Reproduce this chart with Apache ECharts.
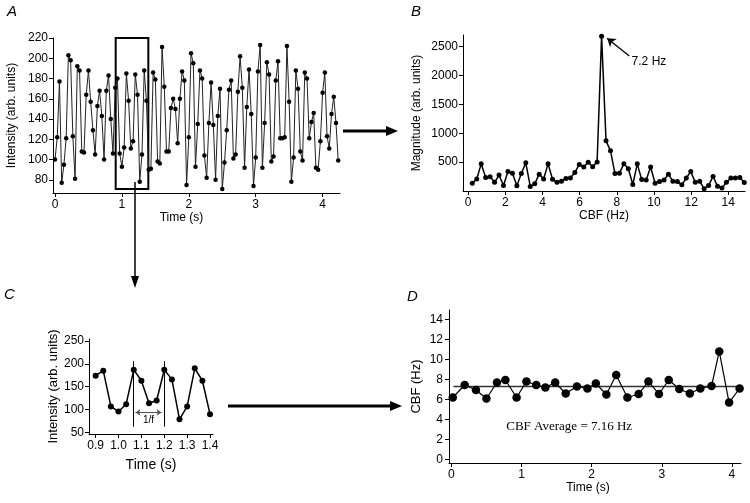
<!DOCTYPE html>
<html><head><meta charset="utf-8">
<script src="https://cdn.jsdelivr.net/npm/echarts@6/dist/echarts.min.js"></script>
<style>html,body{margin:0;padding:0;background:#fff}#c{width:750px;height:503px}</style>
</head><body><div id="c"></div>
<script>
// ---- Panel A: intensity trace sampled at 30 Hz ----
const sampleRateHz = 30;
const intensityA = [100,122,177,77,95,121,203,198,123,81,
 192,188,108,107,164,188,157,129,
 105,153,168,143,100,168,183,140,106,
 171,180,106,93,112,185,158,111,118,184,164,78,105,188,158,
 90,91,186,179,98,96,
 211,172,108,108,151,160,150,116,160,187,
 178,75,122,205,195,93,135,188,180,104,
 82,136,176,134,80,143,170,71,97,129,
 169,178,101,105,167,202,171,92,152,189,
 145,74,102,187,213,92,136,196,184,98,
 103,178,197,121,121,122,212,157,78,102,
 188,170,108,99,186,180,121,137,146,92,
 90,118,166,186,123,111,145,162,136,99];
const ticksAx = [0,1,2,3,4];
const ticksAy = [80,100,120,140,160,180,200,220];

// ---- Panel B: magnitude spectrum ----
const freqB = [0.22,0.46,0.70,0.94,1.18,1.42,1.66,1.90,2.14,2.38,2.62,2.86,3.10,3.34,3.58,3.82,4.06,4.30,4.54,4.78,
 5.02,5.26,5.50,5.74,5.98,6.22,6.46,6.70,6.94,7.18,7.42,7.66,7.90,8.14,8.38,8.62,8.86,9.10,9.34,9.58,
 9.82,10.06,10.30,10.54,10.78,11.02,11.26,11.50,11.74,11.98,12.22,12.46,12.70,12.94,13.18,13.42,13.66,13.90,14.14,14.38,
 14.62,14.86];
const magnitudeB = [134,208,470,235,247,151,275,96,336,309,91,302,487,79,124,292,208,470,202,151,
 168,218,225,319,460,415,499,420,504,2680,868,695,302,309,470,386,113,470,197,191,
 415,134,163,191,292,168,163,107,225,336,151,168,40,96,252,84,50,151,225,225,
 235,146];
const ticksBx = [0,2,4,6,8,10,12,14];
const ticksBy = [500,1000,1500,2000,2500];

// ---- Panel C: zoom of 0.9-1.4 s ----
const timeStartC = 0.9;
const intensityC = [174,185,107,96,112,187,163,114,120,187,166,79,107,190,163,90];
const ticksCx = [0.9,1.0,1.1,1.2,1.3,1.4];
const ticksCy = [50,100,150,200,250];

// ---- Panel D: CBF over time ----
const timeD = [0.02,0.19,0.35,0.50,0.65,0.77,0.93,1.07,1.21,1.34,1.48,1.63,1.79,1.94,2.06,2.21,2.35,2.51,2.67,2.81,2.96,3.10,3.25,3.40,3.55,3.71,3.82,3.96,4.11];
const cbfD = [6.2,7.45,6.95,6.1,7.7,7.95,6.2,7.8,7.45,7.2,7.7,6.6,7.3,7.1,7.6,6.5,8.45,6.2,6.55,7.8,6.55,7.95,7.05,6.6,7.1,7.35,10.8,5.7,7.1];
const cbfAverageLine = 7.3;
const cbfAverageSpan = [0.03, 4.13];
const ticksDx = [0,1,2,3,4];
const ticksDy = [0,2,4,6,8,10,12,14];

const FONT = '"Liberation Sans", Arial, Helvetica, sans-serif';
const K = '#000';

const seriesA = intensityA.map((v,i)=>[i/sampleRateHz, v]);
const seriesB = freqB.map((f,i)=>[f, magnitudeB[i]]);
const seriesC = intensityC.map((v,i)=>[timeStartC + i/sampleRateHz, v]);
const seriesD = timeD.map((t,i)=>[t, cbfD[i]]);

function axis(o){
  return {
    type:'value', gridIndex:o.g, min:o.min, max:o.max,
    axisLine:{show:true,onZero:false,lineStyle:{color:K,width:1}},
    axisTick:{show:true,inside:false,length:4,lineStyle:{color:K},customValues:o.ticks},
    axisLabel:{color:K,fontFamily:FONT,fontSize:o.fs||12,margin:o.margin||6,customValues:o.ticks,
      formatter:o.fmt||(v=>String(v))},
    splitLine:{show:false},
    name:o.name, nameLocation:'middle', nameGap:o.gap,
    nameTextStyle:{color:K,fontFamily:FONT,fontSize:o.nfs||12, padding:o.pad||0}
  };
}

const option = {
  animation:false,
  backgroundColor:'#fff',
  grid:[
    {left:53, top:38, width:287, height:155},
    {left:463, top:35, width:282, height:156},
    {left:89, top:339, width:124, height:95},
    {left:449, top:310, width:292, height:153}
  ],
  xAxis:[
    axis({g:0,min:-0.03,max:4.26,ticks:ticksAx,name:'Time (s)',gap:18,pad:[0,30,0,0]}),
    axis({g:1,min:-0.28,max:14.9,ticks:ticksBx,name:'CBF (Hz)',gap:19}),
    axis({g:2,min:0.871,max:1.413,ticks:ticksCx,name:'Time (s)',gap:24,nfs:14,fs:12,fmt:v=>v.toFixed(1)}),
    axis({g:3,min:-0.034,max:4.13,ticks:ticksDx,name:'Time (s)',gap:17,fs:12,pad:[0,14,0,0]})
  ],
  yAxis:[
    axis({g:0,min:67,max:220,ticks:ticksAy,name:'Intensity (arb. units)',gap:35,margin:5}),
    axis({g:1,min:0,max:2700,ticks:ticksBy,name:'Magnitude (arb. units)',gap:40,margin:5}),
    axis({g:2,min:47,max:254,ticks:ticksCy,name:'Intensity (arb. units)',gap:29,nfs:13,margin:5}),
    axis({g:3,min:-0.33,max:14.93,ticks:ticksDy,name:'CBF (Hz)',gap:26,nfs:13,margin:6})
  ],
  series:[
    {type:'line',xAxisIndex:0,yAxisIndex:0,data:seriesA,symbol:'circle',symbolSize:4.5,
     lineStyle:{color:'#222',width:1},itemStyle:{color:K},
     markArea:{silent:true,itemStyle:{color:'rgba(0,0,0,0)',borderColor:K,borderWidth:2},
       data:[[{coord:[0.907,220]},{coord:[1.395,71]}]]}},
    {type:'line',xAxisIndex:1,yAxisIndex:1,data:seriesB,symbol:'circle',symbolSize:5,
     lineStyle:{color:K,width:1.5},itemStyle:{color:K},
     markLine:{silent:true,symbol:['none','arrow'],symbolSize:8,label:{show:false},
       lineStyle:{color:K,width:1.3,type:'solid'},
       data:[[{coord:[8.67,2337]},{coord:[7.48,2645]}]]},
     markPoint:{symbol:'circle',symbolSize:0,
       label:{show:true,formatter:'7.2 Hz',color:K,fontFamily:FONT,fontSize:12},
       data:[{coord:[9.73,2238]}]}},
    {type:'line',xAxisIndex:2,yAxisIndex:2,data:seriesC,symbol:'circle',symbolSize:6,
     lineStyle:{color:K,width:1.5},itemStyle:{color:K},
     markLine:{silent:true,symbol:['none','none'],symbolSize:5,label:{show:false},
       lineStyle:{color:K,width:1,type:'solid'},
       data:[
         [{coord:[1.064,63]},{coord:[1.064,206]}],
         [{coord:[1.198,63]},{coord:[1.198,206]}],
         [{coord:[1.074,94],symbol:'arrow',symbolSize:5},{coord:[1.188,94],symbol:'arrow',symbolSize:5,lineStyle:{color:'#555',width:1}}]
       ]},
     markPoint:{symbol:'circle',symbolSize:0,
       label:{show:true,formatter:'1/f',color:K,fontFamily:FONT,fontSize:10},
       data:[{coord:[1.131,76]}]}},
    {type:'line',xAxisIndex:3,yAxisIndex:3,data:seriesD,symbol:'circle',symbolSize:8.5,
     lineStyle:{color:K,width:1.2},itemStyle:{color:K},
     markPoint:{symbol:'circle',symbolSize:0,
       label:{show:true,formatter:'CBF Average = 7.16 Hz',color:K,fontFamily:'"Liberation Serif", "Times New Roman", serif',fontSize:13},
       data:[{coord:[1.68,3.31]}]}},
    {type:'line',xAxisIndex:3,yAxisIndex:3,symbol:'none',z:1,
     data:cbfAverageSpan.map(t=>[t,cbfAverageLine]),lineStyle:{color:'#333',width:1.3}}
  ],
  graphic:[
    {type:'text',left:7,top:4,style:{text:'A',font:'italic 15px '+FONT,fill:K}},
    {type:'text',left:411,top:4,style:{text:'B',font:'italic 15px '+FONT,fill:K}},
    {type:'text',left:4,top:287,style:{text:'C',font:'italic 15px '+FONT,fill:K}},
    {type:'text',left:407,top:289,style:{text:'D',font:'italic 15px '+FONT,fill:K}},
    {type:'line',shape:{x1:343,y1:131,x2:388,y2:131},style:{stroke:K,lineWidth:3}},
    {type:'polygon',shape:{points:[[386,126],[398,131],[386,136]]},style:{fill:K}},
    {type:'line',shape:{x1:135,y1:182,x2:135,y2:278},style:{stroke:K,lineWidth:1.5}},
    {type:'polygon',shape:{points:[[131,276],[135,288],[139,276]]},style:{fill:K}},
    {type:'line',shape:{x1:228,y1:406,x2:392,y2:406},style:{stroke:K,lineWidth:3}},
    {type:'polygon',shape:{points:[[390,401],[402,406],[390,411]]},style:{fill:K}}
  ]
};
const chart = echarts.init(document.getElementById('c'), null, {renderer:'canvas'});
chart.setOption(option);
</script>
</body></html>
